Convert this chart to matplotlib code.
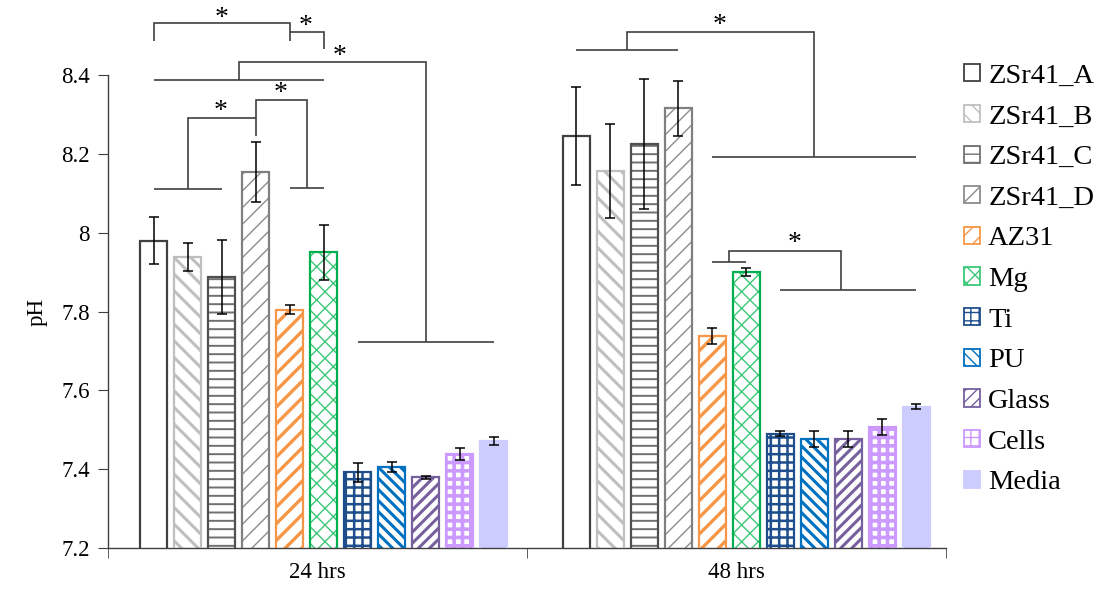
import matplotlib
matplotlib.use('Agg')
import matplotlib.pyplot as plt
from matplotlib.patches import Patch
import numpy as np

plt.rcParams['font.family'] = ['Liberation Serif', 'DejaVu Serif']

# pH por grupo (media e desvio)
grupos = ['24 hrs', '48 hrs']
amostras = ['ZSr41_A', 'ZSr41_B', 'ZSr41_C', 'ZSr41_D', 'AZ31', 'Mg',
            'Ti', 'PU', 'Glass', 'Cells', 'Media']
ph_24 = [7.980, 7.938, 7.888, 8.153, 7.805, 7.950, 7.392, 7.406, 7.379, 7.438, 7.472]
err_24 = [0.060, 0.035, 0.094, 0.076, 0.012, 0.069, 0.025, 0.012, 0.005, 0.015, 0.010]
ph_48 = [8.246, 8.157, 8.225, 8.316, 7.738, 7.900, 7.490, 7.477, 7.477, 7.507, 7.559]
err_48 = [0.124, 0.120, 0.166, 0.070, 0.020, 0.010, 0.006, 0.020, 0.020, 0.020, 0.006]
yticks = [7.2, 7.4, 7.6, 7.8, 8.0, 8.2, 8.4]
ytick_labels = ['7.2', '7.4', '7.6', '7.8', '8', '8.2', '8.4']

# estilo: (preenchimento, cor da hachura, hachura, contorno, espessura da hachura)
estilos = {
    'ZSr41_A': ('white', 'white', None, '#404040', 1.0),
    'ZSr41_B': ('white', '#BFBFBF', '\\\\', '#BFBFBF', 2.2),
    'ZSr41_C': ('white', '#707070', '--', '#505050', 1.4),
    'ZSr41_D': ('white', '#8C8C8C', '//', '#808080', 1.0),
    'AZ31': ('white', '#F79646', '//', '#F79646', 2.4),
    'Mg': ('white', '#3CC878', 'xx', '#00B050', 1.0),
    'Ti': ('white', '#1F4E8C', '++', '#1F4E8C', 1.8),
    'PU': ('white', '#0070C0', '\\\\\\', '#0070C0', 2.2),
    'Glass': ('white', '#76609E', '///', '#76609E', 2.2),
    'Cells': ('white', '#CC99FF', '++', '#CC99FF', 2.6),
    'Media': ('#CCCCFF', '#CCCCFF', None, '#CCCCFF', 1.0),
}

passo = 0.0811
largura = 0.0644
desloc = 0.015


def xpos(g, k):
    return g + desloc + 0.008 * g + (np.asarray(k) - 5) * passo


fig = plt.figure(figsize=(11, 5.96), dpi=100)
ax = fig.add_axes([0.0982, 0.0805, 0.7618, 0.7935])

handles = []
for i, nome in enumerate(amostras):
    face, hcor, hatch, contorno, hlw = estilos[nome]
    xs = xpos(np.arange(len(grupos)), i)
    vals = [ph_24[i], ph_48[i]]
    errs = [err_24[i], err_48[i]]
    with plt.rc_context({'hatch.linewidth': hlw}):
        barras = ax.bar(xs, vals, largura, color=face, edgecolor=hcor,
                        hatch=hatch, linewidth=0, zorder=2)
        for b in barras:
            if hasattr(b, 'set_hatch_linewidth'):
                b.set_hatch_linewidth(hlw)
        ax.bar(xs, vals, largura, color='none', edgecolor=contorno,
               linewidth=1.6, zorder=3)
        h = Patch(facecolor=face, edgecolor=hcor if hatch else contorno,
                  hatch=hatch, linewidth=1.3)
        if hasattr(h, 'set_hatch_linewidth'):
            h.set_hatch_linewidth(hlw)
    handles.append(h)
    ax.errorbar(xs, vals, yerr=errs, fmt='none', ecolor='black',
                elinewidth=1.1, capsize=3.8, capthick=1.1, zorder=4)

# colchetes de significancia: (grupo, [(indice da barra, pH), ...])
colchetes = [
    (0, [(0, 8.486), (0, 8.531), (4, 8.531), (4, 8.486)]),
    (0, [(4, 8.510), (5, 8.510), (5, 8.465)]),
    (0, [(0, 8.387), (5, 8.387)]),
    (0, [(2.5, 8.387), (2.5, 8.434), (8, 8.434), (8, 7.722)]),
    (0, [(6, 7.722), (10, 7.722)]),
    (0, [(0, 8.111), (2, 8.111)]),
    (0, [(1, 8.111), (1, 8.292), (3, 8.292)]),
    (0, [(3, 8.246), (3, 8.337), (4.5, 8.337), (4.5, 8.114)]),
    (0, [(4, 8.114), (5, 8.114)]),
    (1, [(0, 8.463), (3, 8.463)]),
    (1, [(1.5, 8.463), (1.5, 8.510), (7, 8.510), (7, 8.191)]),
    (1, [(4, 8.191), (10, 8.191)]),
    (1, [(4, 7.926), (5, 7.926)]),
    (1, [(4.5, 7.926), (4.5, 7.953), (7.78, 7.953), (7.78, 7.855)]),
    (1, [(6, 7.855), (10, 7.855)]),
]
asteriscos = [(0, 2.0, 8.557), (0, 4.45, 8.537), (0, 5.45, 8.459),
              (0, 1.96, 8.320), (0, 3.73, 8.366),
              (1, 4.21, 8.540), (1, 6.44, 7.986)]

for g, pts in colchetes:
    k, y = zip(*pts)
    ax.plot(xpos(g, k), y, color='#404040', lw=1.2, clip_on=False,
            solid_joinstyle='miter', solid_capstyle='butt', zorder=5)
for g, k, y in asteriscos:
    ax.text(xpos(g, k), y - 0.013, '*', ha='center', va='center', fontsize=20,
            clip_on=False)

ax.set_xlim(-0.5, 1.5)
ax.set_ylim(7.2, 8.4)
ax.set_yticks(yticks)
ax.set_yticklabels(ytick_labels, fontsize=16.5)
ax.set_xticks([0, 1])
ax.set_xticklabels(grupos, fontsize=16.5)
ax.set_xticks([-0.5, 0.5, 1.5], minor=True)
ax.tick_params(axis='x', which='major', length=0, pad=10)
ax.tick_params(axis='x', which='minor', length=7, color='#404040', direction='out')
ax.tick_params(axis='y', length=7, color='#404040', direction='out', pad=6)
ax.set_ylabel('pH', fontsize=16.5, labelpad=10)
for lado in ['top', 'right']:
    ax.spines[lado].set_visible(False)
for lado in ['left', 'bottom']:
    ax.spines[lado].set_color('#404040')
    ax.spines[lado].set_linewidth(1.0)

fig.legend(handles, amostras, loc='upper left', bbox_to_anchor=(0.866, 0.912),
           frameon=False, fontsize=20.5, handlelength=0.55, handleheight=0.55,
           handletextpad=0.3, labelspacing=0.55, borderaxespad=0)

fig.savefig('out.png', dpi=100)
